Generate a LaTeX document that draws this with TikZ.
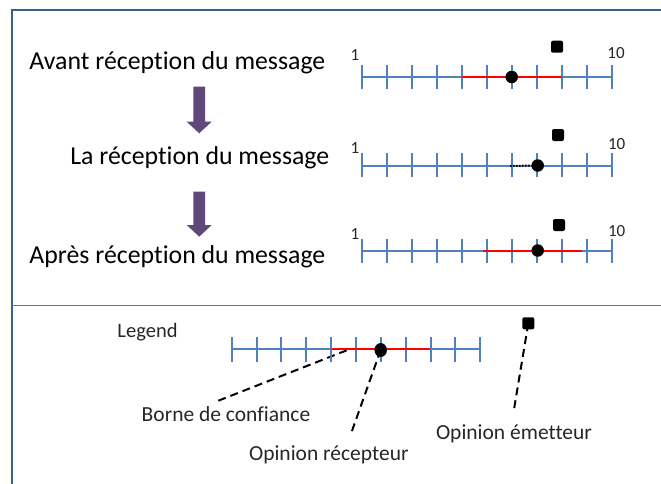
\documentclass[tikz,border=0pt]{standalone}
\usepackage{fontspec}
\setmainfont{Carlito}[RawFeature={-liga;-clig;-dlig}]
\usetikzlibrary{shapes.geometric,backgrounds}
\definecolor{frameblue}{HTML}{3A5F8F}
\definecolor{divblue}{HTML}{4A7EBB}
\definecolor{axisblue}{HTML}{4F81BD}
\definecolor{arrowpurple}{HTML}{5F497A}
\definecolor{textgray}{HTML}{262626}
\begin{document}
\begin{tikzpicture}[x=1pt,y=-1pt,
  frame/.style={draw=frameblue, line width=2.4pt},
  divider/.style={draw=divblue, line width=1.8pt},
  axis/.style={draw=axisblue, line width=2pt},
  conf/.style={draw=red, line width=2pt},
  recv/.style={circle, fill=black, inner sep=0pt, minimum size=12.5pt},
  emit/.style={rectangle, rounded corners=2pt, fill=black, inner sep=0pt, minimum size=12pt},
  stage/.style={font=\fontsize{25.8}{28}\selectfont, anchor=base east, inner sep=0pt, text=black},
  legtext/.style={font=\fontsize{21.5}{24}\selectfont, inner sep=0pt, text=textgray},
  num/.style={font=\fontsize{17}{19}\selectfont, inner sep=0pt, text=textgray},
  lead/.style={dash pattern=on 8pt off 5pt, line width=2pt, draw=black},
  dots/.style={dash pattern=on 1.6pt off 1.4pt, line width=2pt, draw=black},
  bigarrow/.style={fill=arrowpurple}]
\useasboundingbox (0,0) rectangle (661,483);
\clip (0,0) rectangle (661,483);
% frame
\draw[frame] (12,490) -- (12,10) -- (670,10);
\draw[divider] (12,305.5) -- (670,305.5);
% stage labels
\node[stage] (s1) at (325.5,69.3) {Avant réception du message};
\node[stage] (s2) at (329.5,164.3) {La réception du message};
\node[stage] (s3) at (325.5,263.3) {Après réception du message};
% big arrows
\fill[bigarrow] (193.3,86.7) -- (205,86.7) -- (205,121.7) -- (211.7,121.7) -- (199.2,133.3) -- (186.7,121.7) -- (193.3,121.7) -- cycle;
\fill[bigarrow] (193.3,191.7) -- (205,191.7) -- (205,225) -- (211.7,225) -- (199.2,236.7) -- (186.7,225) -- (193.3,225) -- cycle;
% scale 1
\draw[axis] (361.7,77) -- (611.7,77);
\foreach \i in {0,...,10} \draw[axis] ({361.7+25*\i},65) -- ({361.7+25*\i},89);
\draw[conf] (461.7,77) -- (561.7,77);
\node[recv] (r1) at (511.7,77) {};
\node[emit] (e1) at (557,46.7) {};
\node[num] (a1) at (355,55) {1};
\node[num] (b1) at (616,52.7) {10};
% scale 2
\draw[axis] (361.7,166) -- (611.7,166);
\foreach \i in {0,...,10} \draw[axis] ({361.7+25*\i},153) -- ({361.7+25*\i},177);
\node[recv] (r2) at (537.7,165.5) {};
\coordinate (prev) at (510,166);
\draw[dots] (prev) -- (r2.west);
\node[emit] (e2) at (558,135) {};
\node[num] (a2) at (355,148) {1};
\node[num] (b2) at (616.7,144) {10};
% scale 3
\draw[axis] (361.7,251) -- (611.7,251);
\foreach \i in {0,...,10} \draw[axis] ({361.7+25*\i},239) -- ({361.7+25*\i},263);
\draw[conf] (483.3,251) -- (582.3,251);
\node[recv] (r3) at (537.7,250.5) {};
\node[emit] (e3) at (559,225) {};
\node[num] (a3) at (355,234) {1};
\node[num] (b3) at (616.7,231) {10};
% legend
\node[legtext, font=\fontsize{20.5}{23}\selectfont] (leg) at (147.5,331.7) {Legend};
\draw[axis] (231.7,349.3) -- (480.2,349.3);
\foreach \i in {0,...,10} \draw[axis] ({231.7+24.85*\i},337) -- ({231.7+24.85*\i},361.7);
\draw[conf] (331.7,349.3) -- (430,349.3);
\node[legtext] (borne) at (226,414.5) {Borne de confiance};
\node[legtext] (rec) at (328.8,455) {Opinion récepteur};
\node[legtext] (emt) at (514,434) {Opinion émetteur};
\coordinate (bpt) at (349.3,349.3);
\coordinate (bend) at (218.3,400.7);
\coordinate (rend) at (351.7,431.7);
\coordinate (eend) at (514,409.3);
\node[ellipse, fill=black, inner sep=0pt, minimum width=12.5pt, minimum height=14pt] (r4) at (380.7,350) {};
\node[emit] (e4) at (528.3,323.3) {};
\begin{pgfonlayer}{background}
\draw[lead] (bend) -- (bpt);
\draw[lead] (r4.center) -- (rend);
\draw[lead] (e4.center) -- (eend);
\end{pgfonlayer}
\end{tikzpicture}
\end{document}
